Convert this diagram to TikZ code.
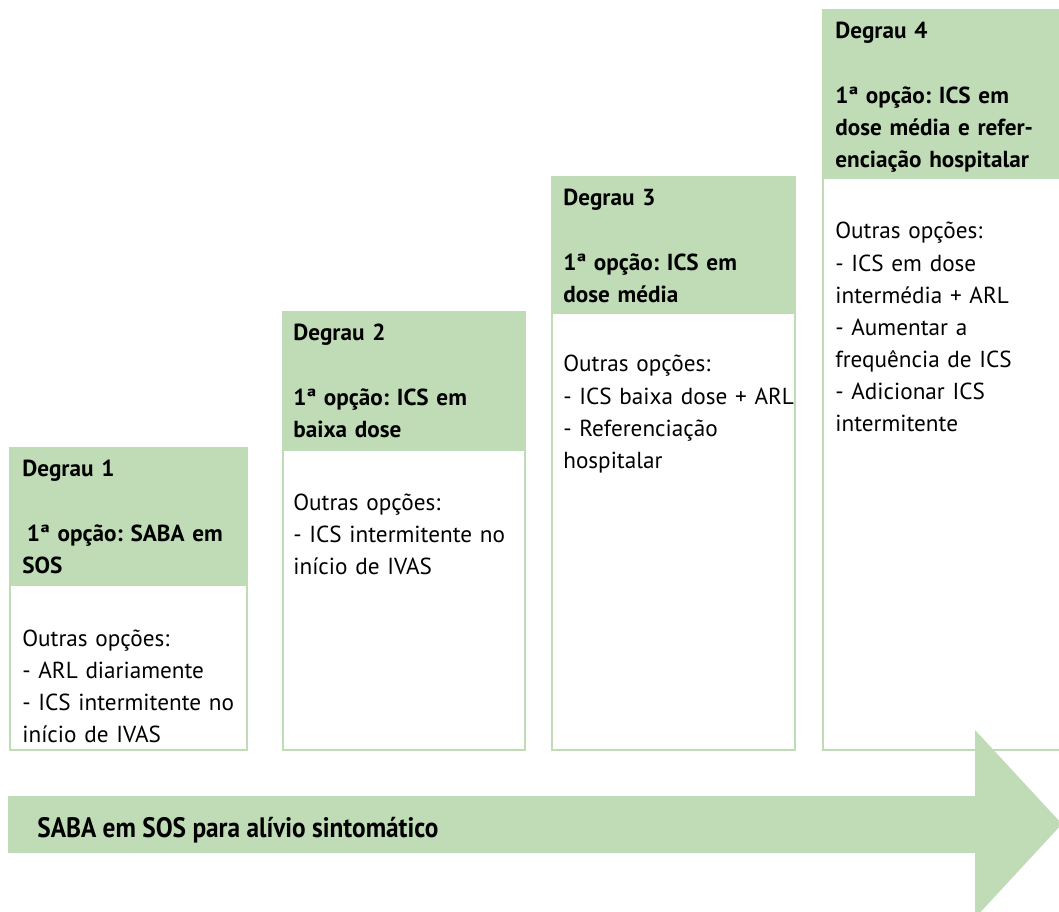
\documentclass[tikz,border=0pt]{standalone}
\usepackage{fontspec}
\setmainfont{PT Sans}
\definecolor{stepgreen}{RGB}{192,220,183}

\tikzstyle{headbox} = [fill=stepgreen,draw=stepgreen,line width=1.2pt]
\tikzstyle{bodybox} = [fill=white,draw=stepgreen,line width=1.2pt]
\tikzstyle{headtext}=[anchor=base west,inner sep=0pt,text width=5cm,align=left,font=\fontsize{13.2}{18.3}\selectfont\bfseries\frenchspacing]
\tikzstyle{bodytext}=[anchor=base west,inner sep=0pt,text width=5cm,align=left,font=\fontsize{13.2}{18.3}\selectfont\frenchspacing]
\tikzstyle{arrowtext}=[anchor=base west,inner sep=0pt,font=\fontsize{16}{18.3}\selectfont\bfseries]

\begin{document}
\begin{tikzpicture}[x=0.02cm,y=-0.02cm]
      \useasboundingbox (0,0) rectangle (1059,912);
      \clip (0,0) rectangle (1059,912);

      %% steps
      \foreach \nm/\x/\ytop/\ymid/\w in {1/10/448/585/237,
        2/283/312/450/242, 3/552/177/313/243, 4/823/10/178/260}
      {
        \draw[bodybox] (\x,\ymid) rectangle ++(\w,{750-\ymid});
        \draw[headbox] (\x,\ytop) rectangle ++(\w,{\ymid-\ytop});
      }

      %% texts of the steps
      \node[headtext] (head1) at (22,477) {Degrau 1\\[18.3pt]\hspace*{0.2em}1ª opção: SABA em\\SOS};
      \node[bodytext] (body1) at (22,646) {Outras opções:\\- ARL diariamente\\- ICS intermitente no\\início de IVAS};

      \node[headtext] (head2) at (293,341) {Degrau 2\\[18.3pt]1ª opção: ICS em\\baixa dose};
      \node[bodytext] (body2) at (293,510) {Outras opções:\\- ICS intermitente no\\início de IVAS};

      \node[headtext] (head3) at (563,206) {Degrau 3\\[18.3pt]1ª opção: ICS em\\dose média};
      \node[bodytext] (body3) at (563,372) {Outras opções:\\- ICS baixa dose + ARL\\- Referenciação\\hospitalar};

      \node[headtext] (head4) at (835,39) {Degrau 4\\[18.3pt]1ª opção: ICS em\\dose média e refer-\\enciação hospitalar};
      \node[bodytext] (body4) at (835,239) {Outras opções:\\- ICS em dose\\intermédia + ARL\\- Aumentar a\\frequência de ICS\\- Adicionar ICS\\intermitente};

      %% arrow
      \fill[stepgreen] (8,796) -- (975,796) -- (975,730) -- (1062,824) -- (975,918)
        -- (975,853) -- (8,853) -- cycle;
      \node[arrowtext] (relief) at (37,837) {\scalebox{0.9}[1]{SABA em SOS para alívio sintomático}};
\end{tikzpicture}
\end{document}
